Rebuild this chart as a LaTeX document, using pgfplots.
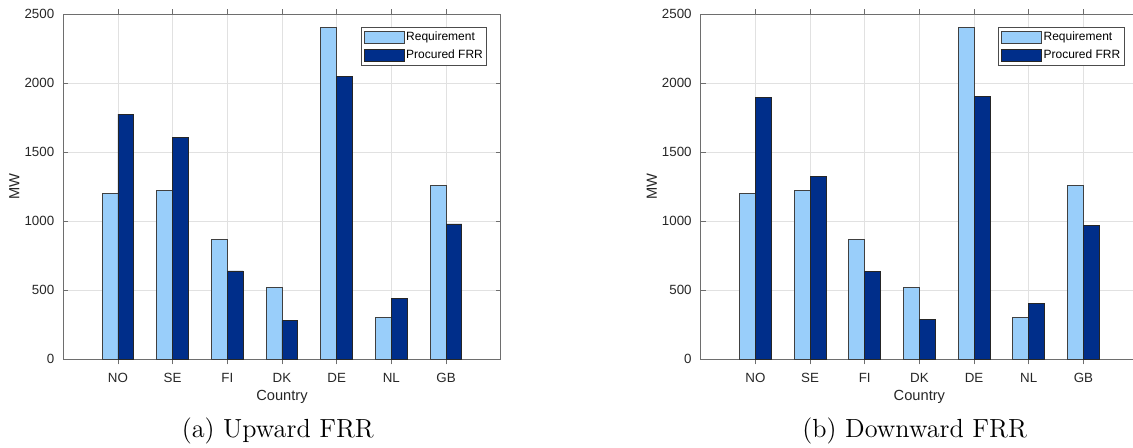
\documentclass[border=0pt]{standalone}
\usepackage{fontspec}
\setsansfont{Liberation Sans}
\usepackage{pgfplots}
\pgfplotsset{compat=1.18}

\definecolor{reqblue}{RGB}{153,206,250}
\definecolor{procblue}{RGB}{0,46,138}
\definecolor{axisgray}{RGB}{110,110,110}
\definecolor{textgray}{RGB}{38,38,38}
\definecolor{gridgray}{RGB}{225,225,225}

\pgfplotsset{
  frrpanel/.style={
    scale only axis,
    width=218.7pt, height=172.65pt,
    anchor=south west,
    xmin=0, xmax=8, ymin=0, ymax=2500,
    xtick={1,2,3,4,5,6,7},
    xticklabels={NO,SE,FI,DK,DE,NL,GB},
    ytick={0,500,1000,1500,2000,2500},
    tick pos=both, tick align=inside,
    major tick length=2.5pt,
    axis line style={axisgray, line width=0.5pt},
    tick style={axisgray, line width=0.4pt},
    grid=major,
    major grid style={gridgray, line width=0.4pt},
    font=\sffamily\fontsize{6.67}{8}\selectfont,
    tick label style={textgray},
    /pgf/number format/assume math mode=true,
    /pgf/number format/1000 sep={},
    xticklabel style={anchor=base, yshift=-9.2pt},
    yticklabel style={anchor=east, xshift=-1pt},
    xlabel={Country}, ylabel={MW},
    label style={textgray, font=\sffamily\fontsize{7.33}{9}\selectfont},
    xlabel style={at={(axis description cs:0.5,-0.120)}, anchor=base},
    ylabel style={at={(axis description cs:-0.112,0.5)}, anchor=center},
    ybar, bar width=0.29,
    legend cell align=left,
    legend style={at={(1,1)}, anchor=north east, xshift=-6.7pt, yshift=-6.65pt,
      draw=black!70, line width=0.4pt, inner sep=1.3pt, row sep=1.7pt,
      font=\sffamily\fontsize{6}{7}\selectfont, text=black,
      nodes={inner sep=0.7pt}},
    legend image code/.code={\draw[#1, line width=0.4pt] (0pt,-3pt) rectangle (20pt,3pt);},
  },
  reqbar/.style={fill=reqblue, draw=black!75, line width=0.4pt, bar shift=-0.145},
  procbar/.style={fill=procblue, draw=black!85, line width=0.4pt, bar shift=0.145},
}

\begin{document}
\begin{tikzpicture}[x=1pt,y=1pt]
\clip (0,0) rectangle (566.5,223.5);
\useasboundingbox (0,0) rectangle (566.5,223.5);

% Upward FRR
\begin{axis}[frrpanel, at={(31.65pt,43.85pt)}]
\addplot[reqbar] coordinates {(1,1200) (2,1220) (3,865) (4,520) (5,2400) (6,300) (7,1262)};
\addplot[procbar] coordinates {(1,1775) (2,1607) (3,640) (4,282) (5,2045) (6,440) (7,980)};
\legend{Requirement, Procured FRR}
\end{axis}

% Downward FRR
\begin{axis}[frrpanel, at={(350.35pt,43.85pt)}]
\addplot[reqbar] coordinates {(1,1200) (2,1220) (3,865) (4,520) (5,2400) (6,300) (7,1262)};
\addplot[procbar] coordinates {(1,1895) (2,1322) (3,635) (4,290) (5,1905) (6,405) (7,968)};
\legend{Requirement, Procured FRR}
\end{axis}

\node[anchor=base, font=\fontsize{13.1}{15}\selectfont] at (138.9,4.65) {(a) Upward FRR};
\node[anchor=base, font=\fontsize{13.1}{15}\selectfont] at (457.35,4.65) {(b) Downward FRR};
\end{tikzpicture}
\end{document}
